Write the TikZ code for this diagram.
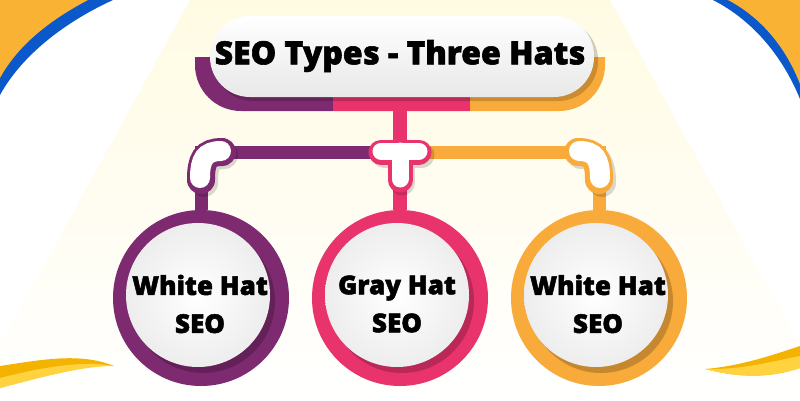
\documentclass[tikz,border=0pt]{standalone}
\usepackage{fontspec}
\setmainfont{Open Sans}
\newfontfamily\heavy{Open Sans}[UprightFont=* Bold, UprightFeatures={FakeBold=1.8}, BoldFeatures={FakeBold=1.8}]
\definecolor{cpurple}{HTML}{7E2A70}
\definecolor{cpink}{HTML}{E8336D}
\definecolor{corange}{HTML}{F8AA3A}
\definecolor{cblue}{HTML}{0A58CA}
\definecolor{cgold}{HTML}{F9B233}
\definecolor{cyel}{HTML}{F5B301}
\definecolor{cyel2}{HTML}{FFD23F}
\definecolor{cream}{HTML}{FFFBE3}
\tikzset{
  ring/.style={circle, minimum size=176pt, inner sep=0pt},
  label/.style={font=\heavy\bfseries\fontsize{26}{38}\selectfont, align=center, text=black},
  barline/.style={line width=13pt},
  elbowout/.style={line width=28pt, line cap=round},
  elbowin/.style={line width=20pt, line cap=round, white},
}
\begin{document}
\begin{tikzpicture}[x=1pt,y=-1pt]
\useasboundingbox (0,0) rectangle (800,400);
\fill[white] (0,0) rectangle (800,400);
% glow cone
\shade[top color=cream, bottom color=white] (190,0) -- (610,0) -- (830,400) -- (-30,400) -- cycle;
% corners
\fill[cblue] (0,0) -- (113,0) .. controls (65,22) and (22,55) .. (0,95) -- cycle;
\fill[cgold] (0,0) -- (88,0) .. controls (50,20) and (18,45) .. (0,78) -- cycle;
\fill[cblue] (800,0) -- (713,0) .. controls (752,20) and (782,55) .. (800,99) -- cycle;
\fill[cgold] (800,0) -- (728,0) .. controls (762,18) and (786,48) .. (800,84) -- cycle;
% bottom swooshes
\fill[cyel] (0,366) .. controls (40,360) and (80,352) .. (114,366) .. controls (80,364) and (40,376) .. (0,388) -- cycle;
\fill[cyel2] (0,378) .. controls (40,368) and (80,360) .. (114,366) .. controls (80,366) and (40,378) .. (0,388) -- cycle;
\fill[cyel] (705,369) .. controls (740,366) and (770,356) .. (800,346) -- (800,368) .. controls (770,378) and (740,378) .. (705,369) -- cycle;
\fill[cyel2] (705,369) .. controls (740,370) and (770,362) .. (800,356) -- (800,368) .. controls (770,378) and (740,378) .. (705,369) -- cycle;

% coloured band under title
\begin{scope}
\clip (0,57) rectangle (333,120);
\fill[cpurple, rounded corners=46] (195,10) rectangle (605,111);
\end{scope}
\begin{scope}
\clip (333,57) rectangle (470,120);
\fill[cpink, rounded corners=46] (195,10) rectangle (605,111);
\end{scope}
\begin{scope}
\clip (470,57) rectangle (800,120);
\fill[corange, rounded corners=46] (195,10) rectangle (605,111);
\end{scope}

% title pill
\fill[black, opacity=0.18, rounded corners=40] (213,20) rectangle (598,101);
\shade[top color=white, bottom color=gray!18, rounded corners=40] (210,16) rectangle (594,97);
\node[font=\heavy\bfseries\fontsize{32}{37}\selectfont] (title) at (400,56) {SEO Types - Three Hats};
\coordinate (bandbot) at (400,108);

% circles
\node[ring, fill=cpurple] (c1) at (201,298) {};
\node[ring, fill=cpink] (c2) at (400,298) {};
\node[ring, fill=corange] (c3) at (599,298) {};
\foreach \c in {c1,c2,c3}{
  \fill[black, opacity=0.2] ([shift={(2,3)}]\c.center) circle (72);
  \shade[inner color=white, outer color=gray!14] ([shift={(-3,-3)}]\c.center) circle (72);
}
\node[label] (t1) at ([shift={(-1,6)}]c1.center) {White Hat\\SEO};
\node[label] (t2) at ([shift={(-3,6)}]c2.center) {Gray Hat\\SEO};
\node[label] (t3) at ([shift={(-1,6)}]c3.center) {White Hat\\SEO};

% junction coordinates
\coordinate (tj) at (400,152);
\coordinate (lj) at (201,152);
\coordinate (rj) at (599,152);

% stems and bar
\draw[cpink, line width=14pt] (bandbot) -- (tj);
\draw[cpink, line width=14pt] (tj) -- (c2.north);
\draw[cpurple, barline] (tj) -- (lj) -- (c1.north);
\draw[corange, barline] (tj) -- (rj) -- (c3.north);

% left elbow
\draw[black, opacity=0.15, elbowout] (224,155) .. controls (207,155) and (204,163) .. (204,183);
\draw[cpurple, elbowout] (222,152) .. controls (205,152) and (201,160) .. (201,180);
\draw[elbowin] (221,151) .. controls (205,151) and (200,159) .. (200,178);
% right elbow
\draw[black, opacity=0.15, elbowout] (581,155) .. controls (597,155) and (602,163) .. (602,183);
\draw[corange, elbowout] (578,152) .. controls (595,152) and (599,160) .. (599,180);
\draw[elbowin] (579,151) .. controls (595,151) and (600,159) .. (600,178);
% T junction
\begin{scope}[line cap=round, line join=round]
\draw[black, opacity=0.15, line width=25pt] (384,155) -- (422,155) (402,155) -- (402,183);
\draw[cpink, line width=25pt] (381,152) -- (419,152) (400,152) -- (400,180);
\draw[white, line width=17pt] (381,151) -- (419,151) (400,151) -- (400,179);
\end{scope}
\end{tikzpicture}
\end{document}
